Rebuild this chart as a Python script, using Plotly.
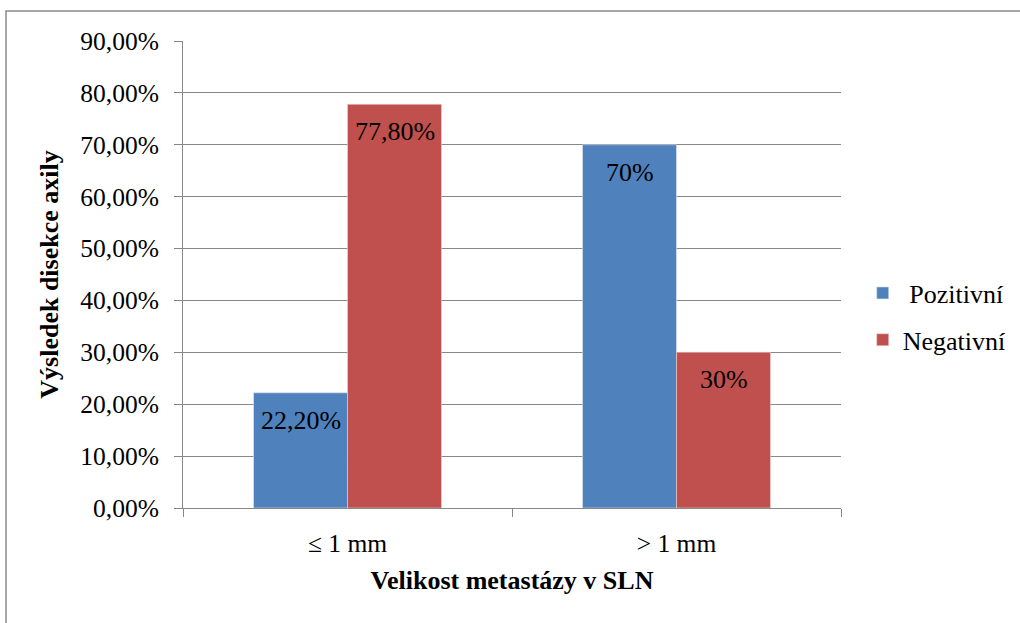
import plotly.graph_objects as go

# Chart data
categories = ["≤ 1 mm", "> 1 mm"]
pozitivni = [22.2, 70.0]
negativni = [77.8, 30.0]
pozitivni_labels = ["22,20%", "70%"]
negativni_labels = ["77,80%", "30%"]
y_ticks = [0, 10, 20, 30, 40, 50, 60, 70, 80, 90]
y_tick_labels = ["0,00%", "10,00%", "20,00%", "30,00%", "40,00%",
                 "50,00%", "60,00%", "70,00%", "80,00%", "90,00%"]

BLUE = "#4F81BD"
RED = "#C0504D"
GRID = "#878787"
FONT = "Liberation Serif"

BARGAP = 1.5 / 3.5          # gap width 150 % of a bar
BAR_W = (1 - BARGAP) / 2    # width of one bar in category units

fig = go.Figure()
fig.add_trace(go.Bar(
    x=categories, y=pozitivni, name=" Pozitivní",
    marker=dict(color=BLUE, line=dict(color="#dfe6f1", width=0.6)),
    legendgroup="p",
))
fig.add_trace(go.Bar(
    x=categories, y=negativni, name="Negativní",
    marker=dict(color=RED, line=dict(color="#eed3d2", width=0.6)),
    legendgroup="n",
))

# value labels just inside the top of each bar
annotations = []
for i, (v, t) in enumerate(zip(pozitivni, pozitivni_labels)):
    annotations.append(dict(x=i - BAR_W / 2, y=v, text=t, xref="x", yref="y",
                            showarrow=False, yanchor="top", yshift=-11,
                            font=dict(family=FONT, size=26, color="black")))
for i, (v, t) in enumerate(zip(negativni, negativni_labels)):
    annotations.append(dict(x=i + BAR_W / 2, y=v, text=t, xref="x", yref="y",
                            showarrow=False, yanchor="top", yshift=-11,
                            font=dict(family=FONT, size=26, color="black")))

fig.update_layout(
    width=1020, height=623,
    margin=dict(l=183, r=179, t=41, b=115, autoexpand=False),
    paper_bgcolor="white", plot_bgcolor="white",
    barmode="group", bargap=BARGAP, bargroupgap=0,
    font=dict(family=FONT, size=26, color="black"),
    showlegend=True,
    legend=dict(x=1.033, y=0.41, xanchor="left", yanchor="middle",
                font=dict(family=FONT, size=26, color="black"),
                tracegroupgap=10, bgcolor="rgba(0,0,0,0)"),
    annotations=annotations,
    shapes=[dict(type="rect", xref="paper", yref="paper",
                 x0=(6 - 183) / 658, x1=(1030 - 183) / 658,
                 y0=(508 - 640) / 467, y1=(508 - 11) / 467,
                 line=dict(color="#8a8a8a", width=1.5), layer="below")],
)

fig.update_yaxes(
    range=[0, 90], tickvals=y_ticks, ticktext=y_tick_labels,
    showgrid=True, gridcolor=GRID, gridwidth=1,
    showline=True, linecolor=GRID, linewidth=1,
    ticks="outside", ticklen=8, tickcolor=GRID,
    zeroline=False, ticklabelstandoff=10, automargin=False,
    tickfont=dict(family=FONT, size=25.5, color="black"),
    title=dict(text="<b>Výsledek disekce axily</b>", standoff=14,
               font=dict(family=FONT, size=26, color="black")),
)
fig.update_xaxes(
    showline=True, linecolor=GRID, linewidth=1,
    ticks="outside", ticklen=8, tickcolor=GRID, tickson="boundaries",
    ticklabelstandoff=12, automargin=False,
    tickfont=dict(family=FONT, size=25.5, color="black"),
    title=dict(text="<b>Velikost metastázy v SLN</b>", standoff=14,
               font=dict(family=FONT, size=26, color="black")),
)

fig.write_html("out.html")
